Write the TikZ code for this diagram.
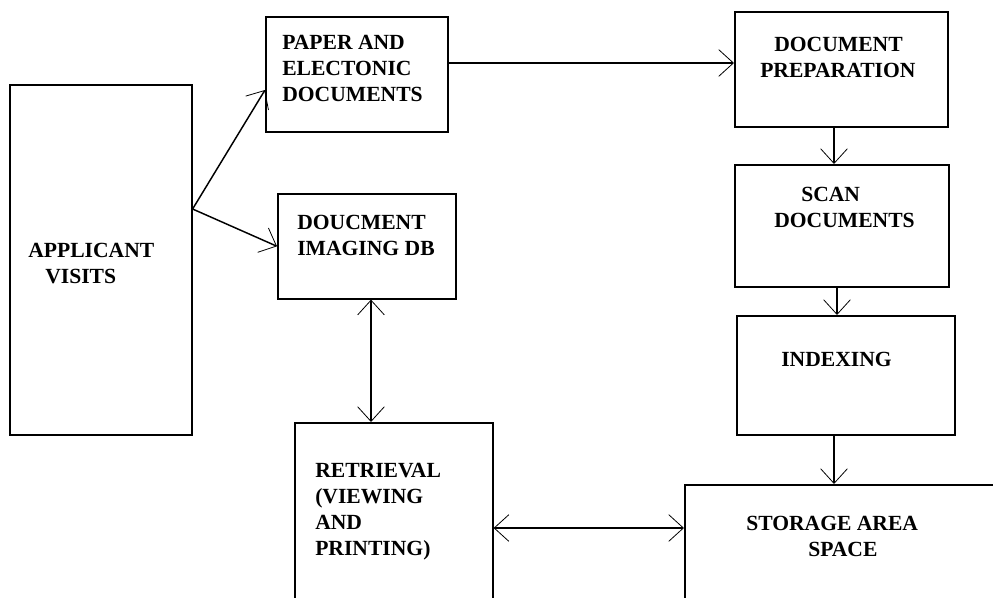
\documentclass[tikz,border=0pt]{standalone}
\usepackage{fontspec}
\setmainfont{Liberation Serif}
\usetikzlibrary{positioning,arrows.meta,calc}

\begin{document}
\begin{tikzpicture}[
  x=0.75pt, y=-0.75pt,
  box/.style={draw, line width=1.2pt, anchor=north west, inner sep=0pt},
  txt/.style={anchor=north west, inner sep=0pt, align=left,
              font=\bfseries\fontsize{16.2}{19.5}\selectfont},
  arr/.style={-{Straight Barb[length=11pt, width=20pt, line width=0.6pt]}, line width=1.1pt},
  darr/.style={{Straight Barb[length=11pt, width=20pt, line width=0.6pt]}-{Straight Barb[length=11pt, width=20pt, line width=0.6pt]}, line width=1.1pt}
]
\useasboundingbox (0,0) rectangle (993,597);
\clip (0,0) rectangle (993,597);
% ----- boxes (pixel grid of the page) -----
\node[box, minimum width=136.5pt, minimum height=262.5pt] (app) at (9,84) {};
\node[box, minimum width=136.5pt, minimum height=86.25pt] (paper) at (265,16) {};
\node[box, minimum width=133.5pt, minimum height=78.75pt] (imgdb) at (277,193) {};
\node[box, minimum width=159.75pt, minimum height=86.25pt] (prep) at (734,11) {};
\node[box, minimum width=160.5pt, minimum height=91.5pt] (scan) at (734,164) {};
\node[box, minimum width=163.5pt, minimum height=89.25pt] (index) at (736,315) {};
\node[box, minimum width=148.5pt, minimum height=165pt] (retr) at (294,422) {};
\node[box, minimum width=255pt, minimum height=120pt] (store) at (684,484) {};
% ----- texts -----
\node[txt] (app-t) at (28,243) {APPLICANT\\\hspace*{12.75pt}VISITS};
\node[txt] (paper-t) at (282,35) {PAPER AND\\ELECTONIC\\DOCUMENTS};
\node[txt] (imgdb-t) at (297,215) {DOUCMENT\\IMAGING DB};
\node[txt] (prep-t) at (760,37) {\hspace*{10.5pt}DOCUMENT\\PREPARATION};
\node[txt] (scan-t) at (774,187) {\hspace*{20.25pt}SCAN\\DOCUMENTS};
\node[txt] (index-t) at (781,352) {INDEXING};
\node[txt] (retr-t) at (315,463) {RETRIEVAL\\(VIEWING\\AND\\PRINTING)};
\node[txt] (store-t) at (746,516) {STORAGE AREA\\\hspace*{46.5pt}SPACE};
% ----- connectors -----
\coordinate (fork) at ($(app.north east)+(0,125)$);
\draw[arr] (fork) -- ($(paper.north west)+(0,74)$);
\draw[arr] (fork) -- (imgdb.west);
\draw[arr] ($(paper.north east)+(0,47)$) coordinate (p1) -- (p1 -| prep.west);
\draw[arr] ($(prep.south west)+(100,0)$) coordinate (p2) -- (p2 |- scan.north);
\draw[arr] ($(scan.south west)+(103,0)$) coordinate (p3) -- (p3 |- index.north);
\draw[arr] ($(index.south west)+(98,0)$) coordinate (p4) -- (p4 |- store.north);
\draw[darr] ($(imgdb.south west)+(94,0)$) coordinate (p5) -- (p5 |- retr.north);
\draw[darr] ($(retr.north east)+(0,106)$) coordinate (p6) -- (p6 -| store.west);
\end{tikzpicture}
\end{document}
